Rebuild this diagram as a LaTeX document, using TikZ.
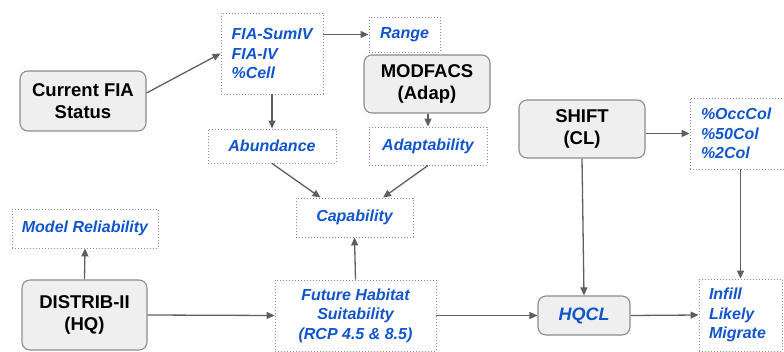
\documentclass[tikz,border=0pt]{standalone}
\usepackage{fontspec}
\setmainfont{Liberation Sans}
\usetikzlibrary{arrows.meta}
\definecolor{txtblue}{HTML}{1155CC}
\definecolor{boxfill}{HTML}{EFEFEF}
\definecolor{boxline}{HTML}{8C8C8C}
\definecolor{dotline}{HTML}{8A8A8A}
\definecolor{arrowgray}{HTML}{5F5F5F}
\tikzset{
  mainbox/.style={draw=boxline, fill=boxfill, rounded corners=8pt, line width=1.1pt,
    align=center, inner sep=0pt, font=\bfseries\fontsize{18.5}{22}\selectfont, text=black},
  dotbox/.style={draw=dotline, dash pattern=on 1pt off 2pt, line width=0.9pt,
    align=center, inner sep=0pt, font=\bfseries\itshape\fontsize{16}{19.5}\selectfont, text=txtblue},
  conn/.style={draw=arrowgray, line width=1.3pt, -{Triangle[length=8pt,width=7pt]}}
}
\begin{document}
\begin{tikzpicture}[x=1pt,y=-1pt]
\useasboundingbox (0,0) rectangle (784,352);
% main rounded boxes
\node[mainbox, minimum width=126pt, minimum height=60pt] (cfs) at (83,101) {Current FIA\\Status};
\node[mainbox, minimum width=126pt, minimum height=58pt] (modfacs) at (427,84) {MODFACS\\(Adap)};
\node[mainbox, minimum width=126pt, minimum height=58pt] (shift) at (582,129) {SHIFT\\(CL)};
\node[mainbox, minimum width=125pt, minimum height=70pt] (distrib) at (84.5,315) {DISTRIB-II\\(HQ)};
\node[mainbox, minimum width=92pt, minimum height=39pt, text=txtblue, font=\bfseries\itshape\fontsize{18}{22}\selectfont] (hqcl) at (584,315.5) {HQCL};
% dotted boxes
\node[dotbox, minimum width=102pt, minimum height=81pt, align=left] (fia) at (272,53.5) {FIA-SumIV\\FIA-IV\\\%Cell};
\node[dotbox, minimum width=71pt, minimum height=35pt] (range) at (404.5,34.5) {Range};
\node[dotbox, minimum width=128pt, minimum height=34pt] (abund) at (272,146) {Abundance};
\node[dotbox, minimum width=118pt, minimum height=38pt] (adapt) at (428,146) {Adaptability};
\node[dotbox, minimum width=96pt, minimum height=71pt, inner xsep=11pt, text width=74pt, align=left] (occ) at (738,133.5) {\%OccCol\\\%50Col\\\%2Col};
\node[dotbox, minimum width=117pt, minimum height=39pt] (cap) at (354.5,217.5) {Capability};
\node[dotbox, minimum width=146pt, minimum height=39pt] (modrel) at (85,228.5) {Model Reliability};
\node[dotbox, minimum width=161pt, minimum height=71pt] (future) at (355.5,315.5) {Future Habitat\\Suitability\\(RCP 4.5 \& 8.5)};
\node[dotbox, minimum width=83pt, minimum height=72pt, inner xsep=10pt, text width=63pt, align=left] (infill) at (740.5,315) {Infill\\Likely\\Migrate};
% connectors
\draw[conn] ([yshift=8pt]cfs.east) -- (fia.west);
\draw[conn] (fia.east |- range.west) -- (range.west);
\draw[conn] (fia.south) -- (abund.north);
\draw[conn] (modfacs.south -| adapt.north) -- (adapt.north);
\draw[conn] (abund.south) -- ([xshift=-34pt]cap.north);
\draw[conn] (adapt.south) -- ([xshift=28.5pt]cap.north);
\draw[conn] (future.north) -- (cap.south);
\draw[conn] (distrib.north) -- (modrel.south);
\draw[conn] (distrib.east) -- (future.west);
\draw[conn] (future.east) -- (hqcl.west);
\draw[conn] (shift.south) -- (hqcl.north);
\draw[conn] (shift.east |- occ.west) -- (occ.west);
\draw[conn] (occ.south -| infill.north) -- (infill.north);
\draw[conn] (hqcl.east) -- (infill.west);
\end{tikzpicture}
\end{document}
